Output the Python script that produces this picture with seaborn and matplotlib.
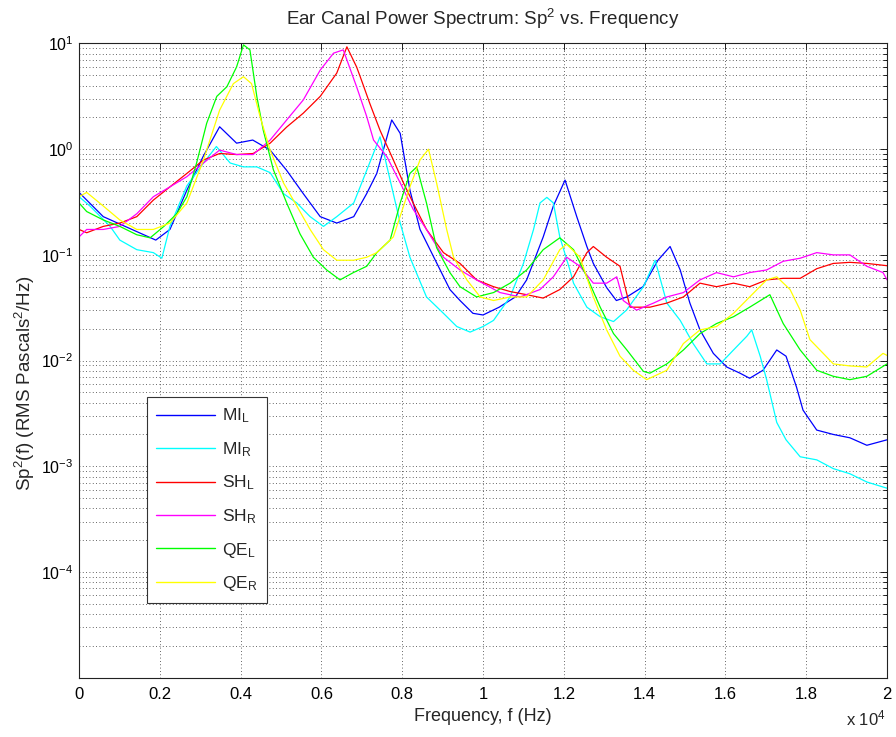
import numpy as np
import pandas as pd
import matplotlib
matplotlib.use('Agg')
import matplotlib.pyplot as plt
from matplotlib.ticker import LogLocator, NullFormatter, FixedLocator
import seaborn as sns

# Frequency (Hz) and power (Pa^2/Hz)
mi_l_f = [0, 600, 1900, 2250, 2670, 3070, 3480, 3900, 4300, 4730, 5140, 5550, 5970, 6380, 6800,
          7120, 7370, 7740, 7950, 8190, 8440, 9180, 9430, 9750, 10000, 10400, 10800, 11080,
          11490, 11740, 12030, 12320, 12570, 12730, 13060, 13300, 13560, 13960, 14330, 14630,
          14880, 15120, 15370, 15700, 16030, 16360, 16600, 16930, 17270, 17500, 17760, 17920,
          18260, 18670, 19080, 19500, 20000]
mi_l_p = [0.39, 0.23, 0.138, 0.174, 0.41, 0.85, 1.63, 1.14, 1.22, 0.98, 0.63, 0.38, 0.23, 0.20, 0.23,
          0.38, 0.59, 1.89, 1.41, 0.41, 0.174, 0.047, 0.037, 0.028, 0.027, 0.032, 0.040, 0.058,
          0.148, 0.29, 0.51, 0.23, 0.12, 0.083, 0.049, 0.037, 0.040, 0.050, 0.089, 0.12,
          0.072, 0.035, 0.0195, 0.0117, 0.0087, 0.0076, 0.0068, 0.0081, 0.0126, 0.011, 0.0056, 0.0034,
          0.0022, 0.0020, 0.00186, 0.00158, 0.00178]

mi_r_f = [0, 270, 770, 1010, 1430, 1840, 2050, 2250, 2670, 3080, 3400, 3740, 4070, 4400, 4730,
          5060, 5390, 5720, 6050, 6380, 6800, 7120, 7450, 7700, 7950, 8190, 8600, 9020, 9350,
          9680, 10000, 10260, 10670, 11000, 11250, 11410, 11580, 11740, 11900, 12150, 12240,
          12570, 12900, 13230, 13550, 13970, 14260, 14550, 14880, 15200, 15540, 15870, 16200,
          16530, 16650, 16860, 17020, 17270, 17500, 17850, 18260, 18670, 19080, 19500, 20000]
mi_r_p = [0.355, 0.29, 0.186, 0.138, 0.112, 0.105, 0.093, 0.186, 0.45, 0.74, 1.06, 0.74, 0.68, 0.68, 0.60,
          0.38, 0.31, 0.23, 0.186, 0.23, 0.31, 0.63, 1.31, 0.51, 0.20, 0.095, 0.040, 0.028, 0.021,
          0.0186, 0.021, 0.024, 0.040, 0.083, 0.174, 0.31, 0.35, 0.31, 0.148, 0.072, 0.054,
          0.032, 0.026, 0.0234, 0.030, 0.050, 0.089, 0.035, 0.024, 0.0145, 0.0093, 0.0093, 0.0126,
          0.017, 0.0195, 0.011, 0.0066, 0.0026, 0.00178, 0.00123, 0.00115, 0.00095, 0.00085, 0.00071, 0.00062]

sh_l_f = [0, 190, 600, 1010, 1430, 1840, 2250, 2670, 3080, 3480, 3900, 4310, 4730, 5140, 5550,
          5970, 6380, 6630, 6870, 6960, 7200, 7450, 7780, 8030, 8270, 8600, 9020, 9430, 9840,
          10260, 10670, 11080, 11490, 11900, 12240, 12570, 12730, 13060, 13390, 13640, 14130,
          14550, 14960, 15370, 15780, 16200, 16600, 17020, 17430, 17850, 18260, 18670, 19080,
          19500, 20000]
sh_l_p = [0.174, 0.162, 0.186, 0.20, 0.23, 0.33, 0.44, 0.59, 0.79, 0.91, 0.89, 0.91, 1.14, 1.62, 2.19,
          3.16, 5.25, 9.3, 6.0, 4.85, 2.69, 1.51, 0.79, 0.48, 0.31, 0.174, 0.105, 0.083, 0.058,
          0.050, 0.045, 0.042, 0.039, 0.047, 0.062, 0.105, 0.12, 0.095, 0.078, 0.032, 0.032,
          0.035, 0.040, 0.054, 0.050, 0.054, 0.050, 0.058, 0.060, 0.060, 0.074, 0.083, 0.085,
          0.083, 0.079]

sh_r_f = [0, 190, 600, 1010, 1430, 1840, 2250, 2670, 3080, 3480, 3900, 4310, 4730, 5140, 5550,
          5970, 6300, 6540, 6870, 7120, 7290, 7620, 7950, 8270, 8600, 9020, 9430, 9840, 10420,
          10920, 11410, 11740, 12070, 12400, 12730, 13060, 13310, 13470, 13800, 14220, 14550,
          14960, 15370, 15780, 16200, 16600, 17020, 17430, 17850, 18260, 18670, 19080, 19500,
          19900, 20000]
sh_r_p = [0.148, 0.174, 0.174, 0.186, 0.245, 0.355, 0.44, 0.55, 0.74, 0.98, 0.89, 0.89, 1.22, 1.89, 2.92,
          5.6, 8.1, 8.7, 3.9, 2.04, 1.22, 0.85, 0.48, 0.27, 0.174, 0.095, 0.072, 0.058, 0.044,
          0.040, 0.047, 0.062, 0.095, 0.078, 0.054, 0.054, 0.062, 0.037, 0.030, 0.035, 0.040,
          0.044, 0.058, 0.068, 0.062, 0.068, 0.072, 0.087, 0.093, 0.105, 0.10, 0.10, 0.078,
          0.068, 0.058]

qe_l_f = [0, 190, 600, 1010, 1430, 1760, 2100, 2420, 2670, 2910, 3160, 3410, 3660, 3900, 4070,
          4230, 4400, 4560, 4810, 5140, 5470, 5800, 6130, 6460, 6790, 7120, 7370, 7700, 7950,
          8190, 8360, 8600, 8850, 9180, 9430, 9840, 10260, 10670, 11080, 11490, 11900, 12240,
          12570, 12900, 13230, 13560, 13970, 14130, 14550, 14960, 15370, 15780, 16200, 16600,
          17100, 17430, 17850, 18260, 18670, 19080, 19500, 20000]
qe_l_p = [0.31, 0.257, 0.214, 0.186, 0.155, 0.145, 0.186, 0.245, 0.355, 0.74, 1.76, 3.16, 3.9, 6.0, 9.7,
          8.7, 3.16, 1.51, 0.64, 0.31, 0.158, 0.095, 0.072, 0.058, 0.068, 0.078, 0.105, 0.138, 0.31,
          0.59, 0.68, 0.31, 0.117, 0.068, 0.050, 0.040, 0.044, 0.054, 0.072, 0.112, 0.145, 0.112,
          0.062, 0.032, 0.018, 0.0126, 0.0079, 0.0076, 0.0093, 0.0126, 0.018, 0.0224, 0.026, 0.032,
          0.042, 0.0224, 0.0126, 0.0081, 0.0071, 0.0066, 0.0071, 0.0093]

qe_r_f = [0, 190, 600, 1010, 1430, 1840, 2250, 2670, 3080, 3480, 3820, 4070, 4270, 4480, 4730,
          5060, 5390, 5720, 6050, 6380, 6800, 7120, 7370, 7780, 8190, 8440, 8650, 8850, 9100,
          9270, 9600, 9930, 10260, 10670, 11080, 11490, 11900, 12070, 12400, 12730, 13060,
          13390, 13720, 14050, 14550, 14960, 15370, 15780, 16200, 16600, 17020, 17270, 17600,
          17850, 18090, 18420, 18670, 19080, 19500, 19900, 20000]
qe_r_p = [0.355, 0.39, 0.29, 0.214, 0.174, 0.174, 0.20, 0.31, 0.79, 2.34, 4.17, 4.85, 4.17, 2.04, 0.98,
          0.48, 0.29, 0.174, 0.112, 0.089, 0.089, 0.095, 0.105, 0.148, 0.44, 0.79, 1.0, 0.48, 0.174,
          0.095, 0.058, 0.040, 0.037, 0.040, 0.040, 0.058, 0.112, 0.126, 0.095, 0.040, 0.0195,
          0.011, 0.0081, 0.0066, 0.0081, 0.0145, 0.0195, 0.021, 0.028, 0.040, 0.058, 0.062, 0.047,
          0.030, 0.0158, 0.0117, 0.0093, 0.0089, 0.0087, 0.0117, 0.0112]

labels = ['MI$_L$', 'MI$_R$', 'SH$_L$', 'SH$_R$', 'QE$_L$', 'QE$_R$']
colors = ['#0000ff', '#00ffff', '#ff0000', '#ff00ff', '#00ff00', '#ffff00']
xtick_labels = ['0', '0.2', '0.4', '0.6', '0.8', '1', '1.2', '1.4', '1.6', '1.8', '2']
ytick_labels = ['10$^{1}$', '10$^{0}$', '10$^{-1}$', '10$^{-2}$', '10$^{-3}$', '10$^{-4}$', '']


def build_frame():
    pairs = [(mi_l_f, mi_l_p), (mi_r_f, mi_r_p), (sh_l_f, sh_l_p),
             (sh_r_f, sh_r_p), (qe_l_f, qe_l_p), (qe_r_f, qe_r_p)]
    frames = []
    for name, (f, p) in zip(labels, pairs):
        frames.append(pd.DataFrame({'freq': f, 'power': p, 'ear': name}))
    return pd.concat(frames, ignore_index=True)


def main():
    sns.set_style('white')
    plt.rcParams['font.family'] = ['Liberation Sans', 'DejaVu Sans']
    plt.rcParams['mathtext.default'] = 'regular'

    df = build_frame()

    fig = plt.figure(figsize=(8.96, 7.37), dpi=100)
    ax = fig.add_axes([0.0882, 0.0805, 0.9018, 0.8605])

    sns.lineplot(data=df, x='freq', y='power', hue='ear', hue_order=labels,
                 palette=dict(zip(labels, colors)), estimator=None, sort=False,
                 linewidth=0.9, ax=ax)

    ax.set_yscale('log')
    ax.set_xlim(0, 20000)
    ax.set_ylim(1e-5, 1e1)

    # ticks, MATLAB-like box
    ax.set_xticks(np.arange(0, 20001, 2000))
    ax.set_xticklabels(xtick_labels)
    yt = [1e1, 1e0, 1e-1, 1e-2, 1e-3, 1e-4, 1e-5]
    ax.yaxis.set_major_locator(FixedLocator(yt))
    ax.set_yticklabels(ytick_labels)
    ax.yaxis.set_minor_locator(LogLocator(base=10, subs=np.arange(2, 10), numticks=20))
    ax.yaxis.set_minor_formatter(NullFormatter())
    ax.tick_params(which='both', direction='in', top=True, right=True, labelsize=12, colors='k')
    ax.tick_params(axis='y', labelsize=11.5, pad=4)
    ax.tick_params(axis='x', pad=7)
    ax.tick_params(which='major', length=5, width=0.6)
    ax.tick_params(which='minor', length=3, width=0.6)

    for side in ax.spines.values():
        side.set_visible(True)
        side.set_color('#222222')
        side.set_linewidth(0.8)

    ax.grid(True, which='major', axis='both', linestyle=(0, (1, 3)), color='#333333', linewidth=0.6)
    ax.grid(True, which='minor', axis='y', linestyle=(0, (1, 3)), color='#333333', linewidth=0.6)

    ax.set_title('Ear Canal Power Spectrum: Sp$^2$ vs. Frequency', fontsize=13.5, pad=13)
    ax.set_xlabel('Frequency, f (Hz)', fontsize=13, labelpad=4)
    ax.set_ylabel('Sp$^2$(f) (RMS Pascals$^2$/Hz)', fontsize=13.5)
    ax.yaxis.set_label_coords(-0.052, 0.465)
    fig.text(0.988, 0.012, 'x 10$^4$', ha='right', va='bottom', fontsize=12)

    leg = ax.legend(loc='lower left', bbox_to_anchor=(0.084, 0.118), borderaxespad=0,
                    frameon=True, fancybox=False, framealpha=1, edgecolor='#333333',
                    fontsize=12.5, handlelength=3.4, labelspacing=0.85, borderpad=0.55,
                    handletextpad=0.35, title=None)
    leg.get_frame().set_linewidth(0.8)
    for line in leg.get_lines():
        line.set_linewidth(1.0)

    fig.savefig('out.png', dpi=100)


if __name__ == '__main__':
    main()
